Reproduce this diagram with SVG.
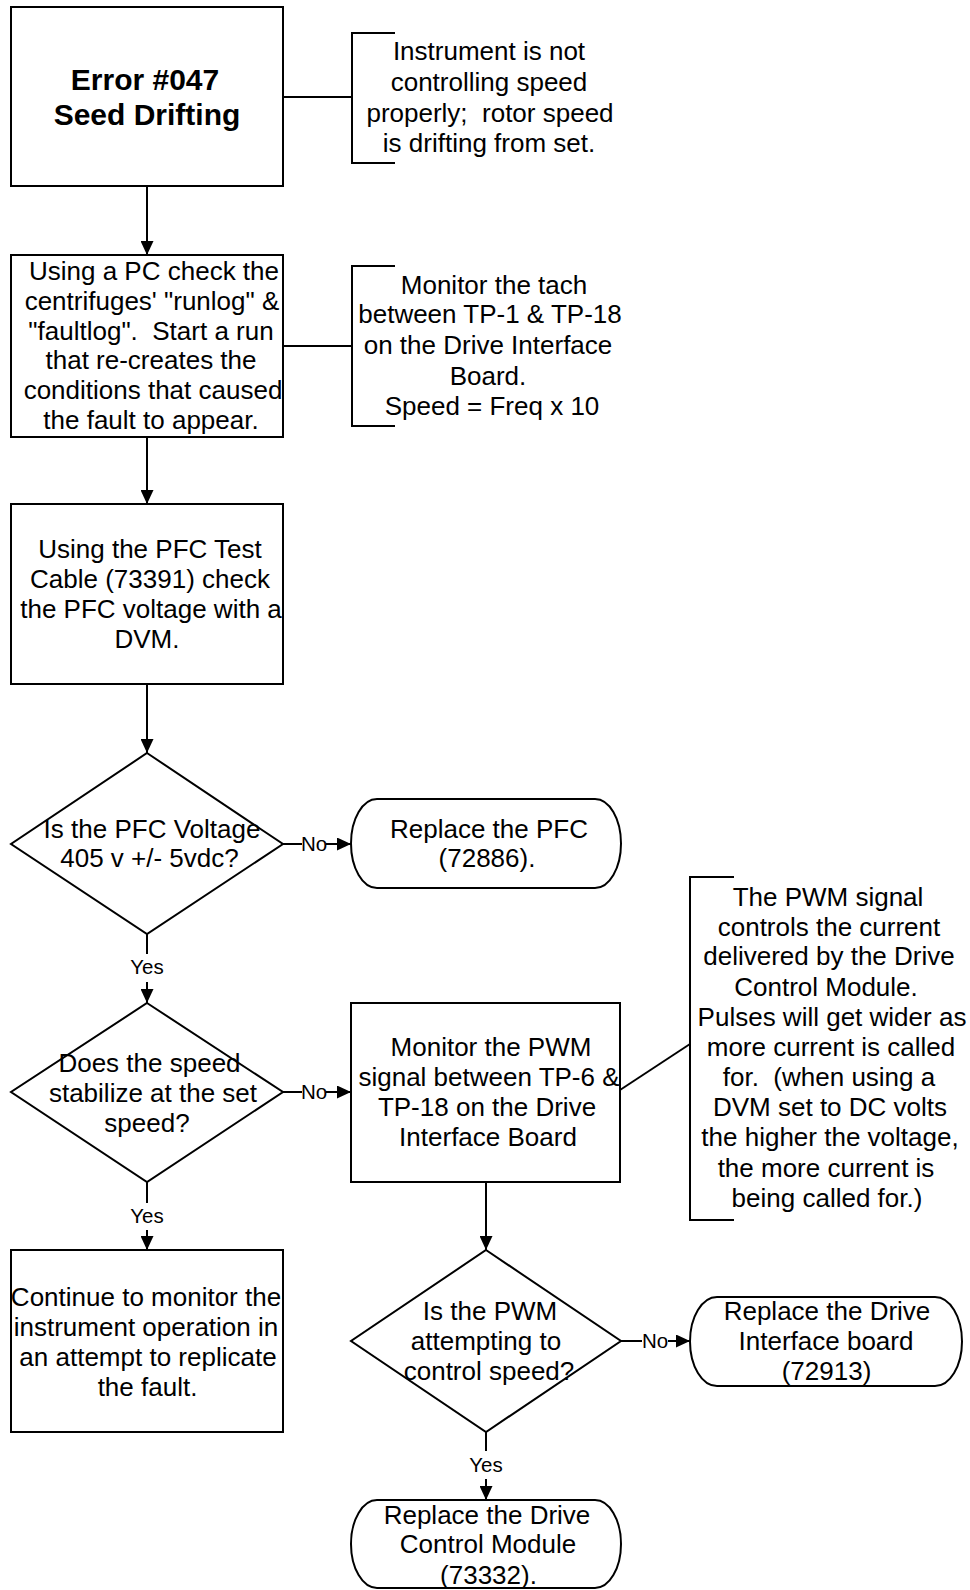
<svg xmlns="http://www.w3.org/2000/svg" width="970" height="1590" viewBox="0 0 970 1590">
<style>
text{font-family:"Liberation Sans",Arial,sans-serif;font-size:26px;fill:#000;text-anchor:middle;white-space:pre}
.t{font-weight:bold;font-size:30px}
.lbl{font-size:20.5px}
.sh{fill:#fff;stroke:#000;stroke-width:2}
.ln{fill:none;stroke:#000;stroke-width:2}
</style>
<defs>
<marker id="ah" markerUnits="userSpaceOnUse" markerWidth="14" markerHeight="13" refX="14" refY="6.5" orient="auto">
<path d="M0,0 L14,6.5 L0,13 Z" fill="#000"/>
</marker>
</defs>
<rect width="970" height="1590" fill="#fff"/>

<g id="connectors">
<line class="ln" x1="147" y1="186" x2="147" y2="255" marker-end="url(#ah)"/>
<line class="ln" x1="147" y1="437" x2="147" y2="504" marker-end="url(#ah)"/>
<line class="ln" x1="147" y1="684" x2="147" y2="753" marker-end="url(#ah)"/>
<line class="ln" x1="283" y1="844" x2="302" y2="844"/>
<text class="lbl" x="314" y="851">No</text>
<line class="ln" x1="326" y1="844" x2="351" y2="844" marker-end="url(#ah)"/>
<line class="ln" x1="147" y1="934" x2="147" y2="954"/>
<text class="lbl" x="147" y="974">Yes</text>
<line class="ln" x1="147" y1="982" x2="147" y2="1003" marker-end="url(#ah)"/>
<line class="ln" x1="283" y1="1092" x2="302" y2="1092"/>
<text class="lbl" x="314" y="1099">No</text>
<line class="ln" x1="326" y1="1092" x2="351" y2="1092" marker-end="url(#ah)"/>
<line class="ln" x1="147" y1="1182" x2="147" y2="1203"/>
<text class="lbl" x="147" y="1223">Yes</text>
<line class="ln" x1="147" y1="1230" x2="147" y2="1250" marker-end="url(#ah)"/>
<line class="ln" x1="486" y1="1182" x2="486" y2="1250" marker-end="url(#ah)"/>
<line class="ln" x1="621" y1="1341" x2="642" y2="1341"/>
<text class="lbl" x="655" y="1348">No</text>
<line class="ln" x1="668" y1="1341" x2="690" y2="1341" marker-end="url(#ah)"/>
<line class="ln" x1="486" y1="1432" x2="486" y2="1451"/>
<text class="lbl" x="486" y="1472">Yes</text>
<line class="ln" x1="486" y1="1479" x2="486" y2="1500" marker-end="url(#ah)"/>
<line class="ln" x1="283" y1="97" x2="352" y2="97"/>
<line class="ln" x1="283" y1="346" x2="352" y2="346"/>
<line class="ln" x1="620" y1="1090" x2="690" y2="1044"/>
</g>

<g id="n1">
<rect class="sh" x="11" y="7" width="272" height="179"/>
<text class="t" x="145" y="89.5">Error #047</text>
<text class="t" x="147" y="125">Seed Drifting</text>
</g>

<g id="note1">
<path class="ln" d="M395,33 H352 V163 H395"/>
<text x="489" y="60">Instrument is not</text>
<text x="489" y="90.5">controlling speed</text>
<text x="490" y="121.5">properly;  rotor speed</text>
<text x="489" y="151.5">is drifting from set.</text>
</g>

<g id="n2">
<rect class="sh" x="11" y="255" width="272" height="182"/>
<text x="154" y="279.5">Using a PC check the</text>
<text x="152" y="309.5">centrifuges' "runlog" &amp;</text>
<text x="151" y="339.5">"faultlog".  Start a run</text>
<text x="151" y="369">that re-creates the</text>
<text x="153" y="398.5">conditions that caused</text>
<text x="151" y="429">the fault to appear.</text>
</g>

<g id="note2">
<path class="ln" d="M395,266 H352 V426 H395"/>
<text x="494" y="293.5">Monitor the tach</text>
<text x="490" y="323">between TP-1 &amp; TP-18</text>
<text x="488" y="353.5">on the Drive Interface</text>
<text x="488" y="384.5">Board.</text>
<text x="492" y="415">Speed = Freq x 10</text>
</g>

<g id="n3">
<rect class="sh" x="11" y="504" width="272" height="180"/>
<text x="150" y="558">Using the PFC Test</text>
<text x="150" y="588">Cable (73391) check</text>
<text x="151" y="618">the PFC voltage with a</text>
<text x="147" y="648">DVM.</text>
</g>

<g id="d1">
<path class="sh" d="M147,753 L283,844 L147,934 L11,844 Z"/>
<text x="152" y="837.5">Is the PFC Voltage</text>
<text x="149.5" y="867">405 v +/- 5vdc?</text>
</g>

<g id="t1">
<path class="sh" d="M377,799 H595 A26,44.5 0 0 1 595,888 H377 A26,44.5 0 0 1 377,799 Z"/>
<text x="489" y="837.5">Replace the PFC</text>
<text x="487" y="867">(72886).</text>
</g>

<g id="d2">
<path class="sh" d="M147,1003 L283,1092 L147,1182 L11,1092 Z"/>
<text x="149.5" y="1071.5">Does the speed</text>
<text x="153" y="1101.5">stabilize at the set</text>
<text x="147" y="1131.5">speed?</text>
</g>

<g id="n4">
<rect class="sh" x="351" y="1003" width="269" height="179"/>
<text x="491" y="1056">Monitor the PWM</text>
<text x="489" y="1086">signal between TP-6 &amp;</text>
<text x="487" y="1116">TP-18 on the Drive</text>
<text x="488" y="1145.5">Interface Board</text>
</g>

<g id="note3">
<path class="ln" d="M734,877 H690 V1220 H734"/>
<text x="828" y="906">The PWM signal</text>
<text x="829" y="935.5">controls the current</text>
<text x="829" y="965">delivered by the Drive</text>
<text x="826" y="995.5">Control Module.</text>
<text x="832" y="1025.5">Pulses will get wider as</text>
<text x="831" y="1055.5">more current is called</text>
<text x="829" y="1085.5">for.  (when using a</text>
<text x="830" y="1115.5">DVM set to DC volts</text>
<text x="830" y="1146">the higher the voltage,</text>
<text x="826" y="1176.5">the more current is</text>
<text x="827" y="1206.5">being called for.)</text>
</g>

<g id="n5">
<rect class="sh" x="11" y="1250" width="272" height="182"/>
<text x="146" y="1306">Continue to monitor the</text>
<text x="146" y="1336">instrument operation in</text>
<text x="148" y="1366">an attempt to replicate</text>
<text x="147.5" y="1395.5">the fault.</text>
</g>

<g id="d3">
<path class="sh" d="M486,1250 L621,1341 L486,1432 L351,1341 Z"/>
<text x="490" y="1320">Is the PWM</text>
<text x="486" y="1349.5">attempting to</text>
<text x="489" y="1380">control speed?</text>
</g>

<g id="t2">
<path class="sh" d="M717,1297 H935 A27,44.5 0 0 1 935,1386 H717 A27,44.5 0 0 1 717,1297 Z"/>
<text x="827" y="1320">Replace the Drive</text>
<text x="826" y="1349.5">Interface board</text>
<text x="826.5" y="1380">(72913)</text>
</g>

<g id="t3">
<path class="sh" d="M377,1500 H595 A26,44 0 0 1 595,1588 H377 A26,44 0 0 1 377,1500 Z"/>
<text x="487" y="1523.5">Replace the Drive</text>
<text x="488" y="1553">Control Module</text>
<text x="488.5" y="1583.5">(73332).</text>
</g>
</svg>
